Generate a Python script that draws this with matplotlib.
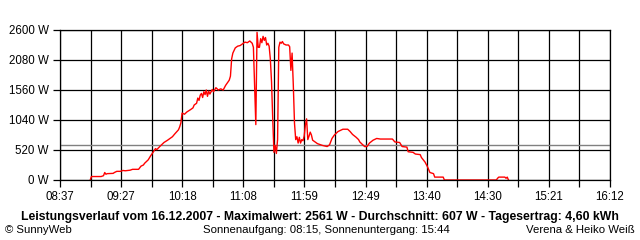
import matplotlib
matplotlib.use("Agg")
import matplotlib.pyplot as plt

plt.rcParams["font.family"] = ["Liberation Sans", "DejaVu Sans"]

# Leistungsverlauf 16.12.2007 (Uhrzeit, Watt)
times = ["09:02", "09:03", "09:11", "09:13", "09:14", "09:15", "09:16", "09:21",
         "09:22", "09:24", "09:27", "09:29", "09:31", "09:35", "09:37", "09:42",
         "09:44", "09:46", "09:47", "09:50", "09:52", "09:54", "09:56", "09:57",
         "10:00", "10:03", "10:06", "10:10", "10:12", "10:15", "10:16", "10:17",
         "10:18", "10:20", "10:22", "10:25", "10:27", "10:28", "10:30", "10:31",
         "10:32", "10:33", "10:34", "10:35", "10:36", "10:37", "10:38", "10:39",
         "10:40", "10:41", "10:43", "10:44", "10:46", "10:48", "10:50", "10:52",
         "10:54", "10:56", "10:57", "10:58", "10:59", "11:00", "11:02", "11:04",
         "11:06", "11:08", "11:10", "11:12", "11:14", "11:16", "11:17", "11:18",
         "11:19", "11:20", "11:21", "11:22", "11:23", "11:24", "11:25", "11:26",
         "11:27", "11:28", "11:29", "11:30", "11:31", "11:32", "11:33", "11:34",
         "11:35", "11:36", "11:37", "11:38", "11:39", "11:40", "11:41", "11:42",
         "11:44", "11:46", "11:47", "11:48", "11:49", "11:50", "11:51", "11:52",
         "11:53", "11:54", "11:55", "11:56", "11:57", "11:58", "11:59", "12:00",
         "12:01", "12:02", "12:03", "12:04", "12:05", "12:06", "12:08", "12:10",
         "12:14", "12:18", "12:20", "12:22", "12:24", "12:27", "12:31", "12:35",
         "12:37", "12:39", "12:42", "12:44", "12:45", "12:48", "12:49", "12:51",
         "12:53", "12:56", "12:59", "13:02", "13:12", "13:14", "13:18", "13:20",
         "13:24", "13:25", "13:29", "13:31", "13:35", "13:36", "13:39", "13:41",
         "13:43", "13:46", "13:47", "13:54", "13:55", "14:38", "14:39", "14:40",
         "14:45", "14:46", "14:47", "14:48"]
watts = [0, 60, 60, 75, 130, 100, 110, 115,
         130, 150, 150, 165, 160, 170, 185, 185,
         240, 260, 290, 350, 420, 480, 545, 525,
         590, 650, 690, 750, 800, 870, 920, 990,
         1160, 1140, 1180, 1220, 1250, 1300, 1330, 1420,
         1380, 1470, 1500, 1430, 1530, 1480, 1560, 1450,
         1540, 1490, 1570, 1530, 1600, 1560, 1580, 1560,
         1640, 1700, 1730, 1800, 2100, 2200, 2290, 2320,
         2330, 2360, 2390, 2380, 2410, 2370, 2300, 1650,
         960, 2560, 2300, 2300, 2450, 2380, 2490, 2420,
         2470, 2340, 2370, 2320, 2100, 1700, 1050, 480,
         600, 460, 700, 2300, 2390, 2370, 2400, 2360,
         2340, 2340, 2310, 1900, 2200, 1650, 980, 700,
         750, 640, 740, 640, 700, 680, 760, 950,
         1060, 700, 760, 830, 780, 690, 660, 630,
         600, 580, 610, 720, 780, 840, 880, 880,
         840, 790, 740, 700, 660, 600, 580, 580,
         640, 690, 720, 710, 710, 660, 650, 580,
         570, 490, 480, 450, 440, 390, 310, 230,
         130, 110, 50, 50, 0, 0, 30, 50,
         50, 30, 50, 0]

y_ticks = [0, 520, 1040, 1560, 2080, 2600]
x_labels = ["08:37", "09:27", "10:18", "11:08", "11:59", "12:49", "13:40",
            "14:30", "15:21", "16:12"]
average = 607

title = ("Leistungsverlauf vom 16.12.2007 - Maximalwert: 2561 W - "
         "Durchschnitt: 607 W - Tagesertrag: 4,60 kWh")


def to_min(t):
    h, m = t.split(":")
    return int(h) * 60 + int(m)


x = [to_min(t) for t in times]
start, end = to_min(x_labels[0]), to_min(x_labels[-1])
step = (end - start) / 18
grid_x = [start + k * step for k in range(19)]

fig = plt.figure(figsize=(6.4, 2.4), dpi=100)
ax = fig.add_axes([60 / 640, 60 / 240, 550 / 640, 150 / 240])

ax.plot(x, watts, color="red", lw=1.0, zorder=2)
ax.axhline(average, color="#808080", lw=1.0, zorder=1.8)

ax.set_xlim(start, end)
ax.set_ylim(0, 2600)
ax.set_xticks(grid_x)
ax.set_xticklabels([x_labels[k // 2] if k % 2 == 0 else "" for k in range(19)])
ax.set_yticks(y_ticks)
ax.set_yticklabels([f"{v} W" for v in y_ticks])
ax.grid(True, color="black", lw=0.9)
ax.tick_params(length=5, width=0.9, color="black", labelsize=8.3, pad=3)
for s in ax.spines.values():
    s.set_linewidth(0.9)
    s.set_zorder(3)

fig.text(320 / 640, 0.096, title, ha="center", va="center", fontsize=8.8,
         fontweight="bold")
fig.text(5 / 640, 0.043, "\u00a9 SunnyWeb", ha="left", va="center", fontsize=8.2)
fig.text(203 / 640, 0.043, "Sonnenaufgang: 08:15, Sonnenuntergang: 15:44",
         ha="left", va="center", fontsize=8.2)
fig.text(635 / 640, 0.043, "Verena & Heiko Wei\u00df", ha="right", va="center",
         fontsize=8.2)

fig.savefig("out.png", dpi=100, facecolor="white")
